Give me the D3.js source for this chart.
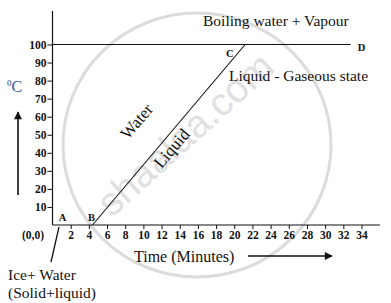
<!DOCTYPE html>
<html><head><meta charset="utf-8">
<script src="https://cdn.jsdelivr.net/npm/d3@7"></script>
<style>
html,body{margin:0;padding:0;background:#fff;}
svg{display:block;}
text{font-family:"Liberation Serif","Times New Roman",serif;fill:#111;}
</style></head>
<body>
<script>
// Data
const xTicks = [2,4,6,8,10,12,14,16,18,20,22,24,26,28,30,32,34];
const yTicks = [10,20,30,40,50,60,70,80,90,100];
const heatingLine = [{t:4.4, c:0},{t:21.2, c:100}];   // B -> C
const boilingLine = [{t:0, c:100},{t:32.8, c:100}];   // 100 °C line to D
const pointLabels = [{name:"A", t:0.7, c:0},{name:"B", t:3.9, c:0},{name:"C", t:19.1, c:100},{name:"D", t:33.6, c:100}];

const W = 391, H = 303;
const svg = d3.select("body").append("svg").attr("width", W).attr("height", H);

const x = d3.scaleLinear().domain([0, 34]).range([52.5, 361.5]);
const y = d3.scaleLinear().domain([0, 100]).range([225, 44.5]);

// watermark
const wm = svg.append("g");
wm.append("ellipse").attr("cx", 197).attr("cy", 145).attr("rx", 134).attr("ry", 132)
  .attr("fill", "none").attr("stroke", "#dcdcdc").attr("stroke-width", 3);
wm.append("text").attr("transform", "translate(112,218) rotate(-42)")
  .style("font-family", "'Liberation Sans',Arial,sans-serif").style("font-size", "39px")
  .style("fill", "#e0e0e0").text("shaalaa.com");

// axes lines
svg.append("line").attr("x1", x(0)).attr("x2", x(0)).attr("y1", 11).attr("y2", y(0))
  .attr("stroke", "#111").attr("stroke-width", 1.2);
svg.append("line").attr("x1", x(0)).attr("x2", 380).attr("y1", y(0)).attr("y2", y(0))
  .attr("stroke", "#111").attr("stroke-width", 1.2);

// y axis ticks
const yAxis = d3.axisLeft(y).tickValues(yTicks).tickSize(5).tickPadding(1);
const gy = svg.append("g").attr("transform", `translate(${x(0)},0)`).call(yAxis);
gy.select(".domain").remove();
gy.selectAll("text").style("font-family", "'Liberation Serif',serif").style("font-weight", "bold")
  .style("font-size", "11.5px").attr("fill", "#222");
gy.selectAll("line").attr("stroke", "#111");

// x axis ticks
const xAxis = d3.axisBottom(x).tickValues(xTicks).tickSize(4).tickPadding(2);
const gx = svg.append("g").attr("transform", `translate(0,${y(0)})`).call(xAxis);
gx.select(".domain").remove();
gx.selectAll("text").style("font-family", "'Liberation Serif',serif").style("font-weight", "bold")
  .style("font-size", "11.5px").attr("fill", "#222");
gx.selectAll("line").attr("stroke", "#111");

// lines
const line = d3.line().x(d => x(d.t)).y(d => y(d.c));
svg.append("path").datum(boilingLine).attr("d", line).attr("fill", "none").attr("stroke", "#111").attr("stroke-width", 1.1);
svg.append("path").datum(heatingLine).attr("d", line).attr("fill", "none").attr("stroke", "#111").attr("stroke-width", 1.1);

// point labels
svg.selectAll(".pl").data(pointLabels).join("text").attr("class", "pl")
  .attr("x", d => x(d.t)).attr("y", d => d.name === "C" || d.name === "D" ? y(d.c) + (d.name === "C" ? 12 : 6) : y(d.c) - 4)
  .style("font-size", "10.5px").style("font-weight", "bold").text(d => d.name);

// origin label
svg.append("text").attr("x", 22).attr("y", 239).style("font-size", "11.5px").style("font-weight", "bold").text("(0,0)");

// annotations
svg.append("text").attr("x", 203).attr("y", 26).style("font-size", "15.5px").text("Boiling water + Vapour");
svg.append("text").attr("x", 229).attr("y", 81).style("font-size", "15.5px").text("Liquid - Gaseous state");
const ang = Math.atan2(y(100) - y(0), x(21.2) - x(4.4)) * 180 / Math.PI;
svg.append("text").attr("transform", `translate(141,125) rotate(${ang})`).attr("text-anchor", "middle")
  .style("font-size", "17px").text("Water");
svg.append("text").attr("transform", `translate(176,152) rotate(${ang})`).attr("text-anchor", "middle")
  .style("font-size", "17px").text("Liquid");
svg.append("text").attr("x", 134).attr("y", 262).style("font-size", "16px").text("Time (Minutes)");
svg.append("text").attr("x", 8).attr("y", 280).style("font-size", "15.5px").text("Ice+ Water");
svg.append("text").attr("x", 8).attr("y", 298).style("font-size", "15.5px").text("(Solid+liquid)");

// °C label
const cl = svg.append("text").attr("x", 7).attr("y", 92).style("font-size", "16px").attr("fill", "#2c5bb0");
cl.append("tspan").attr("dy", -6).style("font-size", "9px").attr("fill", "#1b3b7a").text("0");
cl.append("tspan").attr("dy", 6).attr("fill", "#2c5bb0").text("C");

// pointer line to Ice+Water
svg.append("line").attr("x1", 59).attr("y1", 227).attr("x2", 51).attr("y2", 262).attr("stroke", "#111").attr("stroke-width", 1.3);

// arrows
const defs = svg.append("defs");
defs.append("marker").attr("id", "ah").attr("viewBox", "0 0 10 10").attr("refX", 9).attr("refY", 5)
  .attr("markerWidth", 10).attr("markerHeight", 8).attr("markerUnits", "userSpaceOnUse").attr("orient", "auto")
  .append("path").attr("d", "M0,0 L10,5 L0,10 z").attr("fill", "#111");
svg.append("line").attr("x1", 248).attr("y1", 256).attr("x2", 332).attr("y2", 256)
  .attr("stroke", "#111").attr("stroke-width", 1.6).attr("marker-end", "url(#ah)");
svg.append("line").attr("x1", 18).attr("y1", 195).attr("x2", 18).attr("y2", 112)
  .attr("stroke", "#111").attr("stroke-width", 1.6).attr("marker-end", "url(#ah)");
</script>
</body></html>
